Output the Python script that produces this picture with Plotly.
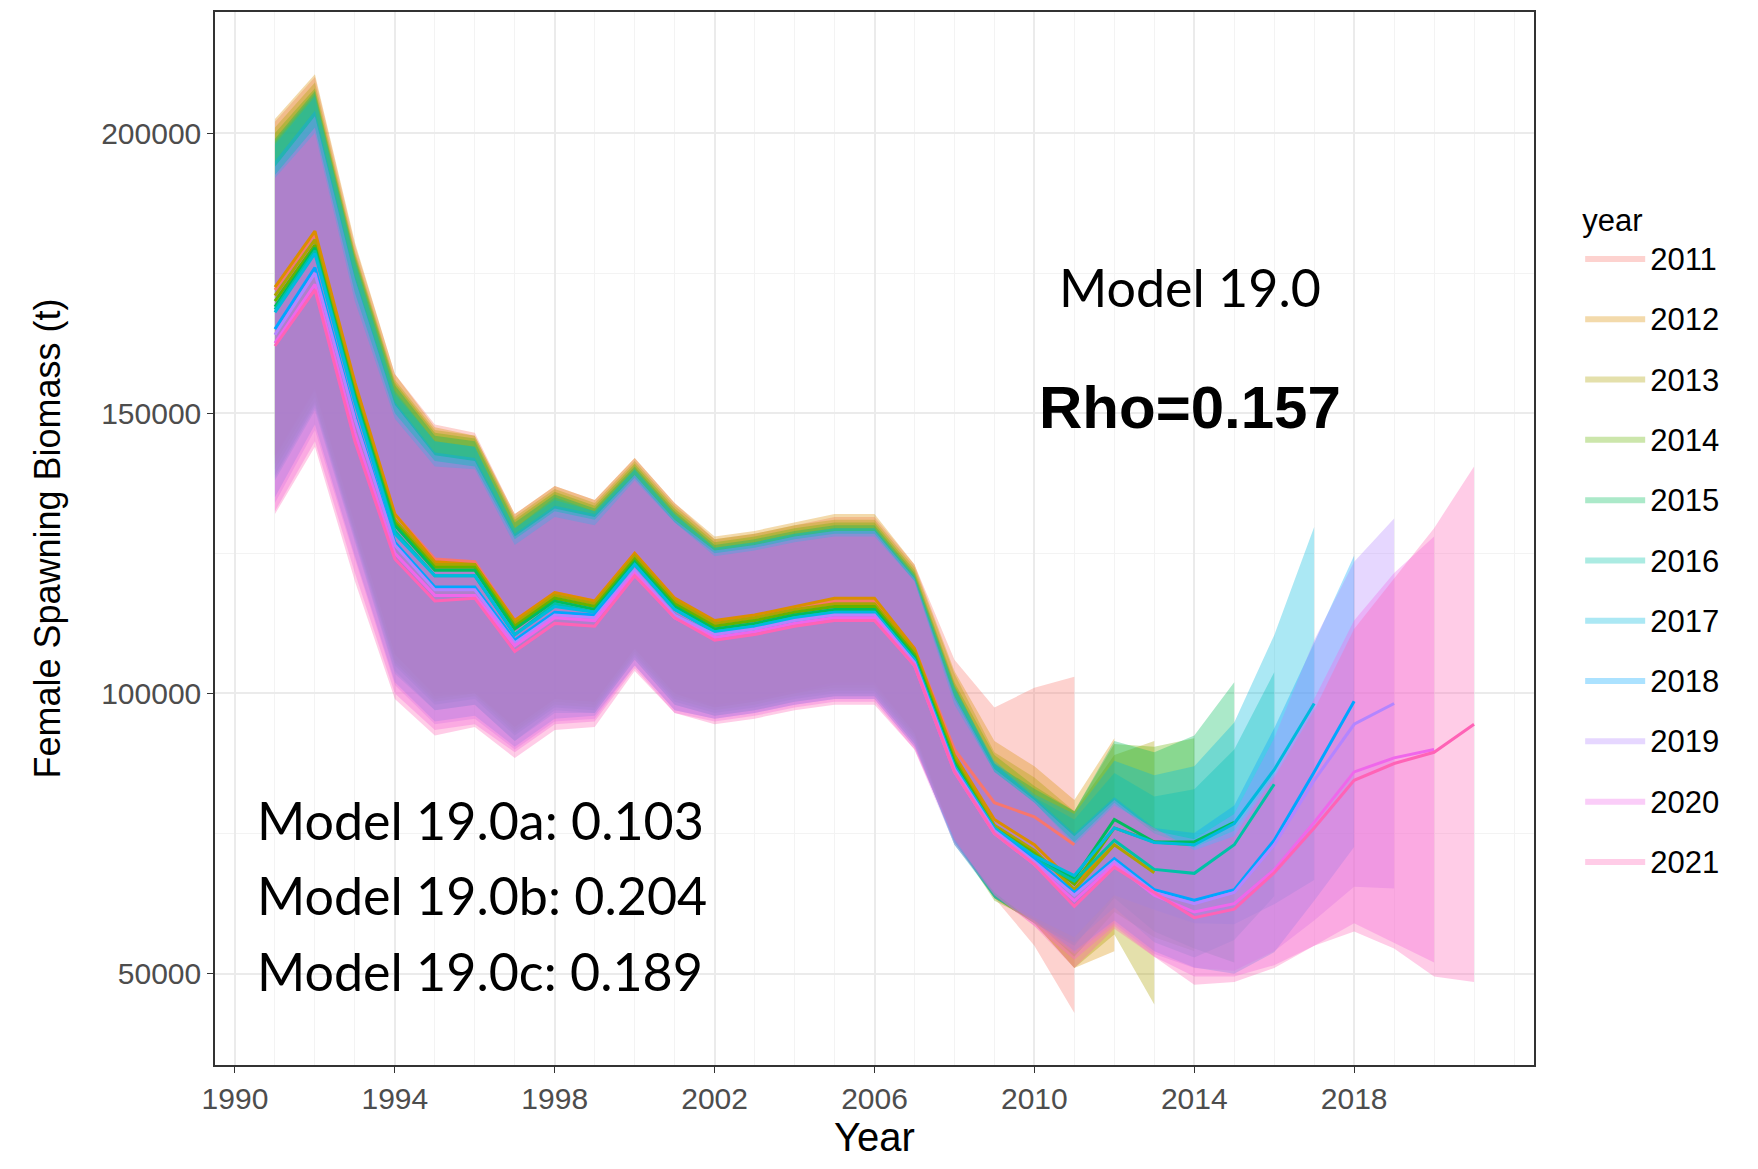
import plotly.graph_objects as go

peel_years = [2011, 2012, 2013, 2014, 2015, 2016, 2017, 2018, 2019, 2020, 2021]
colors = ["#F8766D", "#DB8E00", "#AEA200", "#64B200", "#00BD5C", "#00C1A7",
          "#00BADE", "#00A6FF", "#B385FF", "#EF67EB", "#FF63B6"]

# estimated spawning biomass, 1991 .. peel year
lines = {
    2011: [172000,182000,155000,132000,124000,123500,113000,118000,116500,125000,117000,112500,113500,115000,116500,116500,108000,90000,80500,78000,73000],
    2012: [172500,182500,155500,132000,123500,123000,113000,118000,116500,125000,117000,113000,114000,115500,117000,117000,108000,89000,77500,73000,66000,73000],
    2013: [171000,181000,154000,131000,123000,123000,112500,117500,116000,124500,116500,112500,113500,115000,116000,116000,107500,88500,76500,72000,65000,73000,68000],
    2014: [170000,180000,153500,130500,122500,122500,112000,117000,115500,124000,116000,112000,113000,114500,115500,115500,107000,88000,76000,71500,66000,76000,73500,73000],
    2015: [169000,179500,153000,130000,122000,122000,111500,116500,115000,123500,115500,111500,112500,114000,115000,115000,106500,87500,75500,71000,67000,77500,73500,73500,77000],
    2016: [168500,179000,152500,129000,121000,121000,110500,116000,114500,123000,115000,111000,112000,113500,114500,114500,106000,87000,75500,70500,66500,73800,68600,67900,73000,83800],
    2017: [168000,178500,152000,128500,121000,121000,110500,115500,114500,123000,115000,111000,112000,113500,114500,114500,106000,87000,76000,71000,67500,76000,73400,73000,76800,86400,98200],
    2018: [165000,176000,149500,127000,119000,119000,109500,114500,114000,122000,114000,110500,111500,113000,114000,114000,105500,86500,75500,70500,64500,70500,65000,63100,65000,73800,86000,98600],
    2019: [164000,175000,149000,126500,118500,118500,109000,114000,113500,122000,114000,110500,111500,113000,114000,114000,105500,86500,75500,70000,64000,70000,64500,62500,64500,73000,84500,94500,98200],
    2020: [162500,173000,146500,125000,117500,117500,108500,113500,113000,121500,113500,110000,111000,112500,113500,113500,105000,86000,75000,69500,63000,69500,64000,61000,62500,68500,77000,86000,88500,90000],
    2021: [162000,172000,145000,124000,116500,117000,107500,112500,112000,121000,113500,109500,110500,112000,113000,113000,105000,86000,75000,69500,62000,69000,64500,60000,61500,68000,76000,84500,87500,89500,94500],
}
# half-widths of the intervals: 1991..2007 shared, then per peel year
early_halfwidth = [30000,28000,25000,25000,24000,23000,19000,19000,18000,17000,17000,15000,15000,15000,15000,15000,15000]
tail_halfwidth = {
    2011: [16000,17000,23000,30000],
    2012: [15000,14000,14000,15000,19000],
    2013: [15000,13000,13000,14000,16000,23500],
    2014: [14000,13000,12000,13000,15000,17000,19000],
    2015: [14000,12000,12000,12000,14000,16000,19000,25000],
    2016: [14000,12000,11000,11000,12000,13000,15000,17000,20000],
    2017: [14000,12000,11000,11000,12000,12000,14000,18000,24000,31500],
    2018: [13000,12000,11000,10500,11000,11000,12000,15000,20000,23000,26000],
    2019: [13000,11000,11000,10500,11000,11000,11500,14000,19000,25000,29000,33000],
    2020: [13000,11000,11000,10500,11000,11000,11500,13000,17000,22000,27000,33000,38000],
    2021: [12000,11000,11000,11000,11000,11500,12000,13000,17000,21000,27000,33000,40000,46000],
}

def rgba(h, a):
    h = h.lstrip("#")
    return f"rgba({int(h[0:2],16)},{int(h[2:4],16)},{int(h[4:6],16)},{a})"

fig = go.Figure()
for py, col in zip(peel_years, colors):
    vals = lines[py]
    yrs = list(range(1991, py + 1))
    hw = early_halfwidth + tail_halfwidth[py]
    hi = [v + w for v, w in zip(vals, hw)]
    lo = [v - w for v, w in zip(vals, hw)]
    fig.add_trace(go.Scatter(x=yrs + yrs[::-1], y=hi + lo[::-1], fill="toself",
                             fillcolor=rgba(col, 0.33), line=dict(width=0),
                             name=str(py), legendgroup=str(py), hoverinfo="skip"))
for py, col in zip(peel_years, colors):
    yrs = list(range(1991, py + 1))
    fig.add_trace(go.Scatter(x=yrs, y=lines[py], mode="lines", line=dict(color=col, width=3),
                             showlegend=False, legendgroup=str(py)))

txt = dict(family="Lato", size=52, color="black")
fig.update_layout(
    width=1758, height=1169, paper_bgcolor="white", plot_bgcolor="white",
    margin=dict(l=207, r=232, t=2, b=112),
    font=dict(family="Liberation Sans, Arial", color="#4d4d4d"),
    legend=dict(title=dict(text="year", font=dict(size=31, color="black")),
                font=dict(size=31, color="black"), x=1.035, y=0.83, yanchor="top",
                tracegroupgap=17, itemwidth=60),
    annotations=[
        dict(text="Model 19.0", x=2013.9, y=172500, showarrow=False, font=txt),
        dict(text="<b>Rho=0.157</b>", x=2013.9, y=151000, showarrow=False,
             font=dict(family="Liberation Sans", size=60, color="black")),
        dict(text="Model 19.0a: 0.103", x=1990.5, y=77500, xanchor="left", showarrow=False, font=txt),
        dict(text="Model 19.0b: 0.204", x=1990.5, y=64000, xanchor="left", showarrow=False, font=txt),
        dict(text="Model 19.0c: 0.189", x=1990.5, y=50500, xanchor="left", showarrow=False, font=txt),
    ],
)
fig.update_xaxes(range=[1989.5, 2022.5], tickvals=[1990,1994,1998,2002,2006,2010,2014,2018],
                 showgrid=True, gridcolor="#ebebeb", gridwidth=2,
                 minor=dict(dtick=1, showgrid=True, gridcolor="#f3f3f3", gridwidth=1),
                 ticks="outside", ticklen=6, tickcolor="#333",
                 tickfont=dict(size=30, color="#4d4d4d"),
                 title=dict(text="Year", font=dict(size=40, color="black"), standoff=6),
                 showline=True, linecolor="#333", mirror=True, linewidth=1.5, zeroline=False)
fig.update_yaxes(range=[33700, 221600], tickvals=[50000,100000,150000,200000],
                 ticktext=["50000","100000","150000","200000"],
                 showgrid=True, gridcolor="#ebebeb", gridwidth=2,
                 minor=dict(tickvals=[75000,125000,175000], showgrid=True, gridcolor="#f3f3f3", gridwidth=1),
                 ticks="outside", ticklen=6, tickcolor="#333",
                 tickfont=dict(size=30, color="#4d4d4d"),
                 title=dict(text="Female Spawning Biomass (t)", font=dict(size=36, color="black"), standoff=30),
                 showline=True, linecolor="#333", mirror=True, linewidth=1.5, zeroline=False)
fig.write_html("out.html")
